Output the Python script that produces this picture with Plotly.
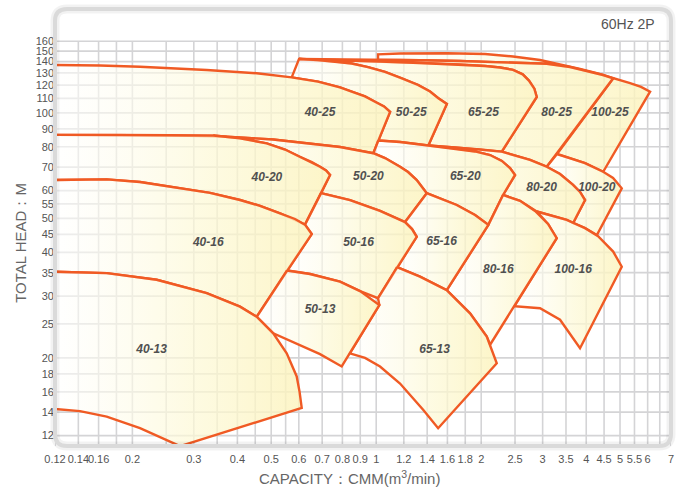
import math
import plotly.graph_objects as go

# ---------------- axis data ----------------
X_TICKS = [0.12, 0.14, 0.16, 0.2, 0.3, 0.4, 0.5, 0.6, 0.7, 0.8, 0.9, 1, 1.2, 1.4, 1.6, 1.8, 2,
           2.5, 3, 3.5, 4, 4.5, 5, 5.5, 6, 7]
X_TICK_TEXT = ["0.12", "0.14", "0.16", "0.2", "0.3", "0.4", "0.5", "0.6", "0.7", "0.8", "0.9", "1",
               "1.2", "1.4", "1.6", "1.8", "2", "2.5", "3", "3.5", "4", "4.5", "5", "5.5", "6", "7"]
X_GRID_EXTRA = [0.18, 0.25, 0.35, 0.45, 0.55, 6.5]
Y_TICKS = [12, 14, 16, 18, 20, 25, 30, 35, 40, 45, 50, 55, 60, 70, 80, 90, 100, 110, 120, 130,
           140, 150, 160]
X_RANGE = [0.12, 7.0]
Y_RANGE = [11.21, 197.8]

# ---------------- pump regions (capacity m3/min, head m) ----------------
Q_40_25 = [0.12, 0.1615, 0.2103, 0.3266, 0.4544, 0.5725, 0.6811, 0.7874, 0.8508, 0.9289, 0.9922, 1.053, 1.096,
           0.9812, 0.7874, 0.6322, 0.5061, 0.3726, 0.2564, 0.1843, 0.12]
H_40_25 = [136.9, 136.5, 135.4, 132.5, 129.7, 126.2, 122.8, 118.2, 114.9, 111.4, 107.6, 104.3, 100.6,
           76.7, 79.9, 82.0, 83.9, 85.5, 86.3, 86.5, 86.5]

Q_50_25 = [0.5725, 0.6008, 0.6811, 0.7622, 0.8508, 0.9475, 1.0599, 1.186, 1.318, 1.4267, 1.5039, 1.594,
           1.4107, 1.1704, 1.0137, 1.096, 1.053, 0.9922, 0.9289, 0.8508, 0.7874, 0.6811, 0.5725]
H_50_25 = [126.2, 142.4, 141.5, 140.1, 138.3, 135.1, 130.8, 125.4, 120.1, 115.0, 110.3, 106.0,
           80.7, 82.6, 83.4, 100.6, 104.3, 107.6, 111.4, 114.9, 118.2, 122.8, 126.2]

Q_65_25 = [0.6008, 0.7874, 1.0256, 1.3355, 1.7391, 2.0514, 2.265, 2.4676, 2.63, 2.74, 2.84, 2.8855,
           2.2905, 1.9848, 1.6826, 1.4107, 1.594, 1.5039, 1.4267, 1.318, 1.186, 1.0599, 0.9475, 0.8508,
           0.7622, 0.6811, 0.6008]
H_65_25 = [142.4, 141.5, 140.1, 138.8, 137.4, 136.0, 134.7, 132.6, 128.8, 123.6, 117.2, 111.0,
           77.5, 78.6, 79.7, 80.7, 106.0, 110.3, 115.0, 120.1, 125.4, 130.8, 135.1, 138.3,
           140.1, 141.5, 142.4]

Q_80_25 = [0.6008, 0.7874, 1.0121, 1.3355, 1.7391, 2.265, 3.0824, 3.5947, 4.1028, 4.4708, 4.7787,
           3.0824, 2.7606, 2.5003, 2.2905, 2.8855, 2.84, 2.74, 2.63, 2.4676, 2.265, 2.0514, 1.7391, 1.3355,
           1.0256, 0.7874, 0.6008]
H_80_25 = [142.4, 142.2, 141.7, 141.2, 140.6, 139.7, 138.0, 135.1, 131.0, 128.2, 125.5,
           70.2, 73.4, 75.6, 77.5, 111.0, 117.2, 123.6, 128.8, 132.6, 134.7, 136.0, 137.4, 138.8,
           140.1, 141.5, 142.4]

Q_100_25 = [1.0121, 1.0121, 1.1704, 1.5929, 2.0514, 2.4676, 2.949, 3.4324, 3.8398, 4.2885, 4.6819, 5.0014,
            5.3428, 5.7436, 6.0969, 4.4739, 3.969, 3.5947, 3.2989, 4.7787, 4.4708, 4.1028, 3.5947, 3.0824,
            2.265, 1.7391, 1.3355, 1.0121]
H_100_25 = [141.5, 146.9, 147.7, 147.9, 147.2, 144.8, 141.5, 136.9, 133.4, 129.7, 126.6, 124.1,
            121.5, 118.6, 114.9, 67.9, 71.9, 74.3, 76.3, 125.5, 128.2, 131.0, 135.1, 138.0,
            139.7, 140.6, 141.2, 141.7]

Q_40_20 = [0.12, 0.1843, 0.2564, 0.3411, 0.407, 0.4855, 0.5477, 0.6022, 0.6539, 0.6902, 0.7181, 0.7373,
           0.625, 0.53, 0.4644, 0.407, 0.3338, 0.2621, 0.2103, 0.1688, 0.12]
H_40_20 = [86.5, 86.5, 86.4, 86.2, 84.6, 81.8, 78.6, 75.0, 72.4, 70.2, 68.5, 66.5,
           48.0, 51.7, 54.3, 56.4, 59.1, 61.5, 63.5, 64.6, 64.3]

Q_50_20 = [0.3411, 0.3726, 0.5061, 0.6322, 0.7874, 0.9812, 1.0599, 1.1704, 1.2339, 1.3067, 1.3959,
           1.2097, 1.0256, 0.8413, 0.695, 0.7373, 0.7181, 0.6902, 0.6539, 0.6022, 0.5477, 0.4855, 0.407,
           0.3411]
H_50_20 = [86.2, 85.5, 83.9, 82.0, 79.9, 76.7, 74.3, 70.2, 67.8, 64.3, 59.0,
           48.8, 52.5, 56.4, 59.0, 66.5, 68.5, 70.2, 72.4, 75.0, 78.6, 81.8, 84.6, 86.2]

Q_65_20 = [1.0137, 1.1704, 1.4107, 1.6826, 1.9201, 2.1204, 2.292, 2.4192, 2.5003, 2.3101, 2.0968,
           1.9201, 1.7016, 1.3959, 1.3067, 1.2339, 1.1704, 1.0599, 0.9812, 1.0137]
H_65_20 = [83.4, 82.6, 80.7, 79.1, 77.6, 75.8, 72.9, 69.6, 66.5, 58.3, 47.9,
           51.1, 54.6, 59.0, 64.3, 67.8, 70.2, 74.3, 76.7, 83.4]

Q_80_20 = [1.4107, 1.6826, 1.9848, 2.2905, 2.5003, 2.7606, 3.0824, 3.365, 3.6667, 3.8398, 3.969,
           3.6692, 3.5172, 2.8855, 2.5842, 2.3101, 2.5003, 2.4192, 2.292, 2.1204, 1.9201, 1.6826, 1.4107]
H_80_20 = [80.7, 79.7, 78.6, 77.5, 75.6, 73.4, 70.2, 66.9, 62.3, 59.5, 56.4,
           48.5, 49.5, 52.3, 56.1, 58.3, 66.5, 69.6, 72.9, 75.8, 77.6, 79.1, 80.7]

Q_100_20 = [3.2989, 3.5947, 3.969, 4.4739, 4.7756, 5.0578, 4.2914, 3.969, 3.6692, 3.969, 3.8398, 3.6667,
            3.365, 3.0824, 3.2989]
H_100_20 = [76.3, 74.3, 71.9, 67.9, 65.2, 60.9, 44.8, 46.9, 48.5, 56.4, 59.5, 62.3,
            66.9, 70.2, 76.3]

Q_40_16 = [0.12, 0.1688, 0.2103, 0.2621, 0.3338, 0.407, 0.4644, 0.53, 0.5851, 0.625, 0.6534,
           0.4544, 0.407, 0.3266, 0.2348, 0.1688, 0.12]
H_40_16 = [64.3, 64.6, 63.5, 61.5, 59.1, 56.4, 54.3, 51.7, 49.8, 48.0, 45.1,
           26.2, 28.0, 30.6, 33.4, 34.9, 35.2]

Q_50_16 = [0.695, 0.8413, 1.0256, 1.2097, 1.2668, 1.3067, 1.0121, 0.8988, 0.7874, 0.6461, 0.555,
           0.6534, 0.625, 0.695]
H_50_16 = [59.0, 56.4, 52.5, 48.8, 46.6, 44.3, 29.6, 31.0, 33.0, 34.7, 35.5,
           45.1, 48.0, 59.0]

Q_65_16 = [1.3959, 1.7016, 1.9201, 2.0968, 1.5929, 1.3355, 1.1475, 1.3067, 1.2668, 1.2097, 1.3959]
H_65_16 = [59.0, 54.6, 51.1, 47.9, 31.2, 34.1, 36.3, 44.3, 46.6, 48.8, 59.0]

Q_80_16 = [2.3101, 2.5842, 2.8534, 3.1089, 3.292, 2.1204, 2.0746, 1.8577, 1.5929, 2.0968, 2.3101]
H_80_16 = [58.3, 56.1, 52.5, 48.2, 43.9, 21.8, 23.0, 26.8, 31.2, 47.9, 58.3]

Q_100_16 = [2.8855, 3.5172, 3.969, 4.3256, 4.7787, 5.0578, 3.8398, 3.365, 2.949, 2.4905, 3.292, 3.1089,
            2.8855]
H_100_16 = [52.3, 49.5, 46.9, 44.5, 40.2, 36.4, 21.3, 25.7, 27.7, 28.1, 43.9, 48.2, 52.3]

Q_40_13 = [0.12, 0.1688, 0.2348, 0.3266, 0.407, 0.4544, 0.5068, 0.5539, 0.5917, 0.603, 0.6116,
           0.274, 0.2103, 0.1688, 0.1415, 0.12]
H_40_13 = [35.2, 34.9, 33.4, 30.6, 28.0, 26.2, 23.5, 20.6, 17.7, 16.0, 14.4,
           11.2, 12.6, 13.6, 14.1, 14.3]

Q_50_13 = [0.555, 0.6461, 0.7874, 0.8988, 1.0208, 0.7963, 0.6902, 0.6322, 0.5068, 0.4544, 0.555]
H_50_13 = [35.5, 34.7, 33.0, 31.0, 28.3, 18.9, 20.5, 21.3, 23.5, 26.2, 35.5]

Q_65_13 = [1.1475, 1.3355, 1.5929, 1.8577, 2.0746, 2.2161, 1.5049, 1.3649, 1.1704, 1.0256, 0.9289,
           0.8402, 1.0208, 1.0121, 1.1475]
H_65_13 = [36.3, 34.1, 31.2, 26.8, 23.0, 19.3, 12.6, 14.2, 16.9, 18.9, 20.0,
           20.6, 28.3, 29.6, 36.3]

REGIONS = [
    ("100-25", Q_100_25, H_100_25), ("80-25", Q_80_25, H_80_25), ("65-25", Q_65_25, H_65_25),
    ("50-25", Q_50_25, H_50_25), ("40-25", Q_40_25, H_40_25),
    ("100-20", Q_100_20, H_100_20), ("80-20", Q_80_20, H_80_20), ("65-20", Q_65_20, H_65_20),
    ("50-20", Q_50_20, H_50_20), ("40-20", Q_40_20, H_40_20),
    ("100-16", Q_100_16, H_100_16), ("80-16", Q_80_16, H_80_16), ("65-16", Q_65_16, H_65_16),
    ("50-16", Q_50_16, H_50_16), ("40-16", Q_40_16, H_40_16),
    ("65-13", Q_65_13, H_65_13), ("50-13", Q_50_13, H_50_13), ("40-13", Q_40_13, H_40_13),
]

# ---------------- region labels ----------------
LABEL_TEXT = ["40-25", "50-25", "65-25", "80-25", "100-25",
              "40-20", "50-20", "65-20", "80-20", "100-20",
              "40-16", "50-16", "65-16", "80-16", "100-16",
              "40-13", "50-13", "65-13"]
LABEL_Q = [0.69, 1.26, 2.03, 3.29, 4.68,
           0.486, 0.95, 1.8, 2.98, 4.29,
           0.33, 0.89, 1.54, 2.24, 3.67,
           0.227, 0.69, 1.47]
LABEL_H = [100, 100, 100, 100, 100,
           65, 65.5, 65.5, 61, 61,
           42.6, 42.6, 42.9, 35.6, 35.6,
           21, 27.4, 21]

LINE_COLOR = "#F05A24"
FONT = "Liberation Sans, Arial, sans-serif"

fig = go.Figure()

# grid (vertical lines stop at the top tick, horizontal span full width)
gx, gy = [], []
for v in sorted(X_TICKS + X_GRID_EXTRA):
    gx += [v, v, None]
    gy += [Y_RANGE[0], Y_TICKS[-1], None]
for h in Y_TICKS:
    gx += [X_RANGE[0], X_RANGE[1], None]
    gy += [h, h, None]
fig.add_trace(go.Scatter(x=gx, y=gy, mode="lines", line=dict(color="#d4d4d6", width=1.6),
                         hoverinfo="skip", showlegend=False))

for name, q, h in REGIONS:
    fig.add_trace(go.Scatter(
        x=q, y=h, mode="lines", fill="toself",
        fillgradient=dict(type="horizontal",
                          colorscale=[[0, "rgba(255,255,255,0.55)"],
                                      [0.55, "rgba(253,249,215,0.72)"],
                                      [1, "rgba(252,243,188,0.82)"]]),
        line=dict(color=LINE_COLOR, width=2.4),
        hoverinfo="skip", showlegend=False, name=name))

fig.add_trace(go.Scatter(
    x=LABEL_Q, y=LABEL_H, mode="text",
    text=["<b><i>%s</i></b>" % t for t in LABEL_TEXT],
    textfont=dict(family=FONT, size=12, color="#505050"),
    hoverinfo="skip", showlegend=False))

# rounded frame of the plot area (with a faint outer shadow)
W, Hh, r = 616.0, 437.0, 12.0
rx, ry = r / W, r / Hh
frame_path = (f"M {rx},0 L {1-rx},0 Q 1,0 1,{ry} L 1,{1-ry} Q 1,1 {1-rx},1 "
              f"L {rx},1 Q 0,1 0,{1-ry} L 0,{ry} Q 0,0 {rx},0 Z")
fig.add_shape(type="path", path=frame_path, xref="paper", yref="paper",
              line=dict(color="rgba(0,0,0,0.05)", width=9), layer="above")
fig.add_shape(type="path", path=frame_path, xref="paper", yref="paper",
              line=dict(color="#dadada", width=4), layer="above")

fig.add_annotation(text="60Hz 2P", x=1, y=1, xref="paper", yref="paper",
                   xanchor="right", yanchor="top", xshift=-14, yshift=-5, showarrow=False,
                   font=dict(family=FONT, size=14, color="#555555"))
fig.add_annotation(text="TOTAL HEAD：M", x=0, y=0.465, xref="paper", yref="paper",
                   textangle=-90, xanchor="center", yanchor="middle", xshift=-34,
                   showarrow=False, font=dict(family=FONT, size=15, color="#666666"))
fig.add_annotation(text="CAPACITY：CMM(m<sup>3</sup>/min)", x=0.478, y=0, xref="paper", yref="paper",
                   xanchor="center", yanchor="middle", yshift=-31,
                   showarrow=False, font=dict(family=FONT, size=15, color="#666666"))

fig.update_layout(
    width=682, height=488,
    margin=dict(l=55, r=11, t=9, b=42),
    paper_bgcolor="white", plot_bgcolor="white",
    showlegend=False,
    xaxis=dict(type="log", range=[math.log10(X_RANGE[0]), math.log10(X_RANGE[1])],
               tickvals=X_TICKS, ticktext=X_TICK_TEXT, tickangle=0, showgrid=False, zeroline=False,
               showline=False, ticks="", ticklabelstandoff=5,
               tickfont=dict(family=FONT, size=11, color="#555555")),
    yaxis=dict(type="log", range=[math.log10(Y_RANGE[0]), math.log10(Y_RANGE[1])],
               tickvals=Y_TICKS, ticktext=[str(v) for v in Y_TICKS], showgrid=False,
               zeroline=False, showline=False, ticks="",
               tickfont=dict(family=FONT, size=11, color="#555555")),
)

fig.write_html("out.html", config={"displayModeBar": False},
               post_script="document.body.style.margin='0px';document.body.style.overflow='hidden';")
